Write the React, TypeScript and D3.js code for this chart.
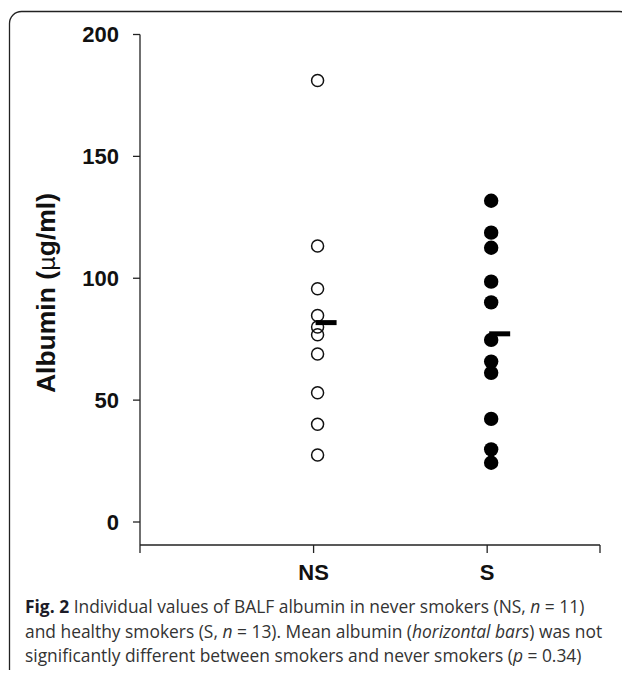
import React, { useEffect, useRef } from 'react';
import * as d3 from 'd3';

// groups and values
const groups = ['NS', 'S'];
const nsValues = [181.1, 113.2, 95.7, 84.7, 80.0, 76.8, 68.9, 53.0, 40.1, 27.5];
const sValues = [131.8, 118.7, 112.5, 98.6, 90.1, 74.7, 65.8, 61.2, 42.3, 29.8, 24.3];
const groupMeans = [81.8, 77.2];
const yTicks = [0, 50, 100, 150, 200];

const W = 630;
const H = 678;

const App = () => {
    const ref = useRef<SVGSVGElement>(null);

    useEffect(() => {
        const svg = d3.select(ref.current);
        svg.selectAll('*').remove();

        const chartFont = '"Liberation Sans", Arial, sans-serif';
        const capFont = '"Open Sans", "Noto Sans", sans-serif';

        const y = d3.scaleLinear().domain([0, 200]).range([522, 34.5]);
        const x = d3.scaleLinear().domain([0, 2.65]).range([140, 600]);
        const axisBottom = 545;
        const dx = 4; // points sit a little right of the tick

        // frame
        svg.append('rect')
            .attr('x', 9.5).attr('y', 11.5)
            .attr('width', 622).attr('height', 672)
            .attr('rx', 12)
            .attr('fill', 'none')
            .attr('stroke', '#222')
            .attr('stroke-width', 1.3);

        // y axis
        svg.append('line')
            .attr('x1', 140).attr('x2', 140)
            .attr('y1', y(200)).attr('y2', axisBottom)
            .attr('stroke', '#222').attr('stroke-width', 1.3);

        const yt = svg.append('g').selectAll('g').data(yTicks).enter().append('g');
        yt.append('line')
            .attr('x1', 133).attr('x2', 140)
            .attr('y1', (d) => y(d)).attr('y2', (d) => y(d))
            .attr('stroke', '#222').attr('stroke-width', 1.3);
        yt.append('text')
            .attr('x', 119).attr('y', (d) => y(d))
            .attr('dy', '0.36em')
            .attr('text-anchor', 'end')
            .attr('font-family', chartFont)
            .attr('font-weight', 'bold')
            .attr('font-size', 22)
            .attr('fill', '#111')
            .text((d) => d);

        // y title
        const title = svg.append('text')
            .attr('transform', 'translate(55,293) rotate(-90)')
            .attr('text-anchor', 'middle')
            .attr('font-family', chartFont)
            .attr('font-weight', 'bold')
            .attr('font-size', 26.5)
            .attr('fill', '#111');
        title.append('tspan').text('Albumin (');
        title.append('tspan').attr('font-weight', 'normal').attr('font-family', '"DejaVu Sans", sans-serif').attr('font-size', 23).text('μ');
        title.append('tspan').text('g/ml)');

        // x axis
        svg.append('line')
            .attr('x1', 140).attr('x2', 600)
            .attr('y1', axisBottom).attr('y2', axisBottom)
            .attr('stroke', '#222').attr('stroke-width', 1.3);
        const xTickPos = [0, 1, 2, 2.65];
        svg.append('g').selectAll('line').data(xTickPos).enter()
            .append('line')
            .attr('x1', (d) => x(d)).attr('x2', (d) => x(d))
            .attr('y1', axisBottom).attr('y2', axisBottom + 8)
            .attr('stroke', '#222').attr('stroke-width', 1.3);
        svg.append('g').selectAll('text').data(groups).enter()
            .append('text')
            .attr('x', (d, i) => x(i + 1))
            .attr('y', 580)
            .attr('text-anchor', 'middle')
            .attr('font-family', chartFont)
            .attr('font-weight', 'bold')
            .attr('font-size', 22)
            .attr('fill', '#111')
            .text((d) => d);

        // never smokers: open circles
        svg.append('g').selectAll('circle').data(nsValues).enter()
            .append('circle')
            .attr('cx', x(1) + dx)
            .attr('cy', (d) => y(d))
            .attr('r', 6)
            .attr('fill', 'none')
            .attr('stroke', '#111')
            .attr('stroke-width', 1.5);

        // smokers: filled dots
        svg.append('g').selectAll('circle').data(sValues).enter()
            .append('circle')
            .attr('cx', x(2) + dx)
            .attr('cy', (d) => y(d))
            .attr('r', 7.2)
            .attr('fill', '#000');

        // mean bars
        svg.append('g').selectAll('line').data(groupMeans).enter()
            .append('line')
            .attr('x1', (d, i) => x(i + 1) + 2)
            .attr('x2', (d, i) => x(i + 1) + 23)
            .attr('y1', (d) => y(d)).attr('y2', (d) => y(d))
            .attr('stroke', '#000')
            .attr('stroke-width', 5);

        // caption
        const cap = svg.append('text')
            .attr('font-family', capFont)
            .attr('font-size', 17.4)
            .attr('fill', '#333');
        const l1 = cap.append('tspan').attr('x', 25).attr('y', 613);
        l1.append('tspan').attr('font-weight', 'bold').attr('fill', '#1c1c28').text('Fig. 2');
        l1.append('tspan').text(' Individual values of BALF albumin in never smokers (NS, ');
        l1.append('tspan').attr('font-style', 'italic').text('n');
        l1.append('tspan').text(' = 11)');
        const l2 = cap.append('tspan').attr('x', 25).attr('y', 637.5);
        l2.append('tspan').text('and healthy smokers (S, ');
        l2.append('tspan').attr('font-style', 'italic').text('n');
        l2.append('tspan').text(' = 13). Mean albumin (');
        l2.append('tspan').attr('font-style', 'italic').text('horizontal bars');
        l2.append('tspan').text(') was not');
        const l3 = cap.append('tspan').attr('x', 25).attr('y', 662);
        l3.append('tspan').text('significantly different between smokers and never smokers (');
        l3.append('tspan').attr('font-style', 'italic').text('p');
        l3.append('tspan').text(' = 0.34)');
    }, []);

    return <svg ref={ref} width={W} height={H} style={{ display: 'block', margin: -8 }} />;
};

export default App;
